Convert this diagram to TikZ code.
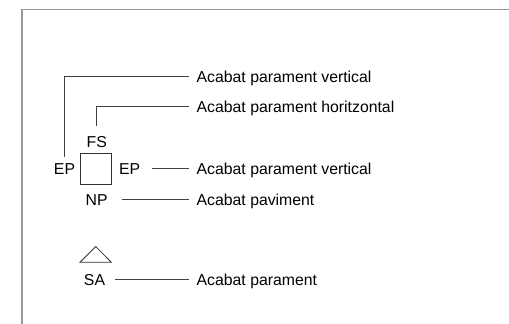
\documentclass[tikz,border=0pt]{standalone}
\usepackage{fontspec}
\setmainfont{Liberation Sans}
\begin{document}
\begin{tikzpicture}[x=1pt,y=-1pt,
  lbl/.style={font=\fontsize{15.8}{18}\selectfont, inner sep=0pt,
              text height=11.3pt, text depth=0pt},
  legend/.style={lbl, anchor=west},
  lead/.style={draw=black!75, line width=0.8pt},
  symbol/.style={draw=black!80, line width=0.8pt},
  frame/.style={draw=black!40, line width=1.4pt}]
  % page extent
  \useasboundingbox (0,0) rectangle (509,324);
  % outer frame
  \draw[frame] (22,324) -- (22,9.5) -- (509,9.5);

  % legend texts
  \node[legend] (t1) at (196.5,76.5)  {Acabat parament vertical};
  \node[legend] (t2) at (196.5,106.5) {Acabat parament horitzontal};
  \node[legend] (t3) at (196.5,168.5) {Acabat parament vertical};
  \node[legend] (t4) at (196.5,199.5) {Acabat paviment};
  \node[legend] (t5) at (196.5,279.5) {Acabat parament};

  % square symbol with its side marks
  \node[symbol, minimum size=30.6pt, inner sep=0pt] (sq) at (96,168.7) {};
  \node[lbl] (epl) at (64.5,168.5) {EP};
  \node[lbl] (epr) at (129.7,168.5) {EP};
  \node[lbl] (fs)  at (96.7,141.7) {FS};
  \node[lbl] (np)  at (96.7,199.5) {NP};

  % triangle symbol
  \coordinate (ta) at (95.7,246.5);
  \coordinate (tl) at (80,262.3);
  \coordinate (tr) at (111.3,262.3);
  \draw[symbol, line join=miter] (tl) -- (ta) -- (tr) -- cycle;
  \node[lbl] (sa) at (94.5,279.5) {SA};

  % leader lines
  \draw[lead] ([yshift=5.5pt]epl.north) |- ([xshift=-7.5pt]t1.west);
  \draw[lead] ([yshift=9.5pt]fs.north)  |- ([xshift=-7.5pt]t2.west);
  \draw[lead] ([xshift=11.3pt]epr.east) -- ([xshift=-7.5pt]t3.west);
  \draw[lead] ([xshift=13.8pt]np.east)  -- ([xshift=-7.5pt]t4.west);
  \draw[lead] ([xshift=9.5pt]sa.east)   -- ([xshift=-7.5pt]t5.west);
\end{tikzpicture}
\end{document}
